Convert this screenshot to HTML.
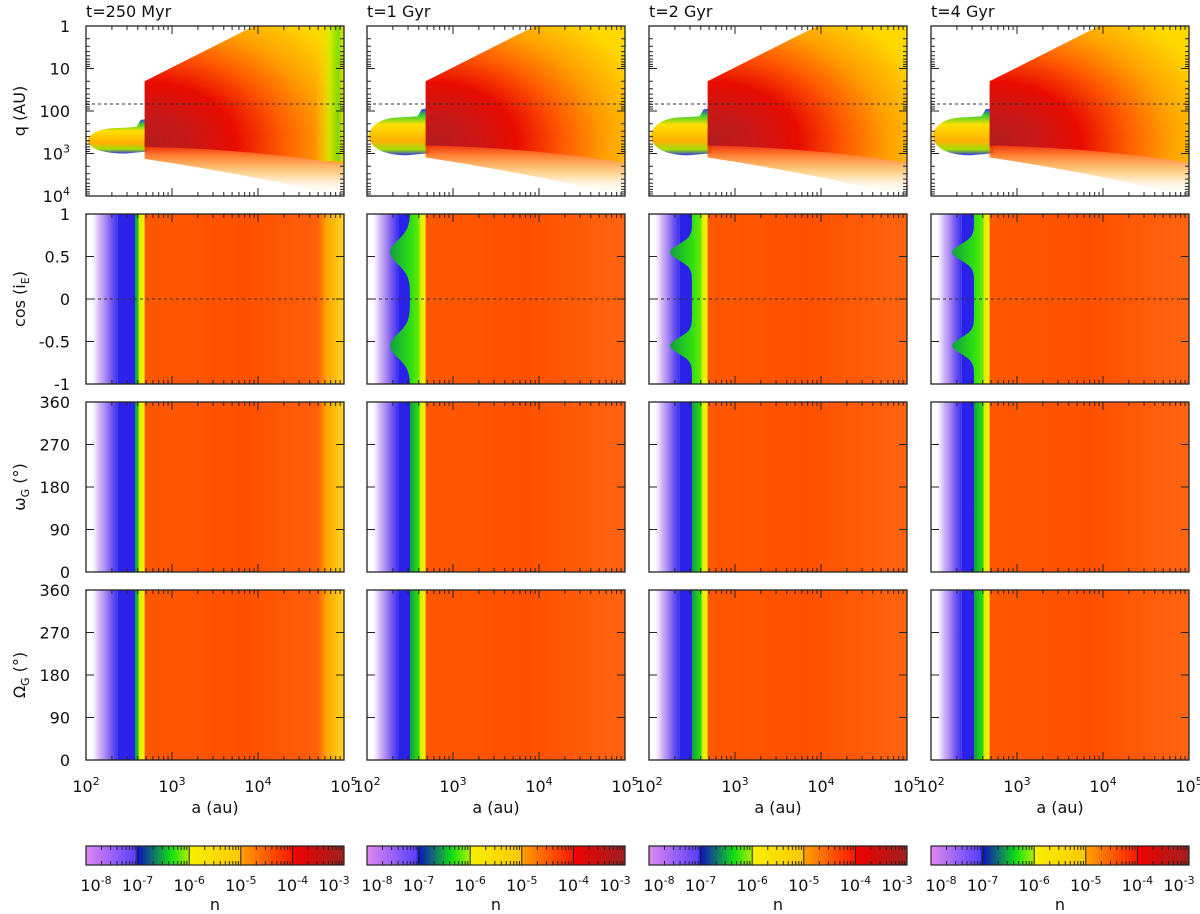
<!DOCTYPE html>
<html><head><meta charset="utf-8"><style>
body{margin:0;background:#fff}
svg{display:block;font-family:"DejaVu Sans","Liberation Sans",sans-serif}
</style></head><body>
<svg id="fig" width="1200" height="914" viewBox="0 0 1200 914" xmlns="http://www.w3.org/2000/svg">
<defs>
<radialGradient id="gQ" cx="0.02" cy="0.85" r="1.15" fx="0.02" fy="0.85"><stop offset="0" stop-color="#b41c1c"/><stop offset="0.18" stop-color="#c81818"/><stop offset="0.38" stop-color="#e80c00"/><stop offset="0.58" stop-color="#ff5a00"/><stop offset="0.77" stop-color="#ffa000"/><stop offset="1" stop-color="#ffd800"/></radialGradient>
<linearGradient id="gQfade" x1="0" y1="0" x2="0" y2="1"><stop offset="0" stop-color="#e81000" stop-opacity="1"/><stop offset="0.25" stop-color="#ff6000" stop-opacity="0.8"/><stop offset="0.6" stop-color="#ffa000" stop-opacity="0.4"/><stop offset="1" stop-color="#ffffff" stop-opacity="0"/></linearGradient>
<linearGradient id="gBand" x1="0" y1="0" x2="0" y2="1"><stop offset="0" stop-color="#3030ff"/><stop offset="0.15" stop-color="#30d030"/><stop offset="0.35" stop-color="#ffe000"/><stop offset="0.7" stop-color="#ffb000"/><stop offset="0.88" stop-color="#a0e000"/><stop offset="1" stop-color="#3030f0"/></linearGradient>
<linearGradient id="gViolet" x1="0" y1="0" x2="1" y2="0"><stop offset="0" stop-color="#d8b0f8" stop-opacity="0"/><stop offset="0.3" stop-color="#c0a0f4" stop-opacity="0.8"/><stop offset="0.7" stop-color="#8060f0"/><stop offset="1" stop-color="#3a30f0"/></linearGradient>
<linearGradient id="gGreen" x1="0" y1="0" x2="1" y2="0"><stop offset="0" stop-color="#10a040"/><stop offset="0.6" stop-color="#30e010"/><stop offset="1" stop-color="#a0f000"/></linearGradient>
<linearGradient id="gYel" x1="0" y1="0" x2="1" y2="0"><stop offset="0" stop-color="#d0f000"/><stop offset="1" stop-color="#fff000"/></linearGradient>
<linearGradient id="gOr" x1="0" y1="0" x2="1" y2="0"><stop offset="0" stop-color="#ff5800"/><stop offset="0.5" stop-color="#ff5000"/><stop offset="1" stop-color="#ff6410"/></linearGradient>
<linearGradient id="gOuter" x1="0" y1="0" x2="1" y2="0"><stop offset="0" stop-color="#ff5000" stop-opacity="0"/><stop offset="0.4" stop-color="#ffa000"/><stop offset="1" stop-color="#ffd820"/></linearGradient>
<linearGradient id="gOuterQ" x1="0" y1="0" x2="1" y2="0"><stop offset="0" stop-color="#ffd000" stop-opacity="0"/><stop offset="0.5" stop-color="#d0f000" stop-opacity="0.8"/><stop offset="0.8" stop-color="#60e000" stop-opacity="0.8"/><stop offset="1" stop-color="#ffe000"/></linearGradient>
<linearGradient id="gCB" x1="0" y1="0" x2="1" y2="0"><stop offset="0" stop-color="#e088f0"/><stop offset="0.19" stop-color="#5a40ff"/><stop offset="0.2" stop-color="#1010c0"/><stop offset="0.33" stop-color="#10e010"/><stop offset="0.4" stop-color="#b0f000"/><stop offset="0.4" stop-color="#f8f000"/><stop offset="0.6" stop-color="#ffc800"/><stop offset="0.6" stop-color="#ffa000"/><stop offset="0.8" stop-color="#ff1800"/><stop offset="0.8" stop-color="#f00000"/><stop offset="1" stop-color="#a02020"/></linearGradient>
</defs>
</svg>
<script>
// ---- data ----
const timeLabels = ["t=250 Myr", "t=1 Gyr", "t=2 Gyr", "t=4 Gyr"];
const edgeA = [480, 480, 480, 480];          // inner edge of dense region (au)
const qTopA = [9000, 9000, 9000, 9000];       // a where upper q boundary reaches q=1
const qEdgeTop = [20, 20, 20, 20];            // q at top of edge
const qRedBottom = [700, 650, 650, 650];      // lower q boundary of red region
const bandTopQ = [250, 140, 140, 140];        // low-a band top q
const bandBotQ = [1000, 1100, 1100, 1100];    // low-a band bottom q
const blueA = [235, 230, 225, 225];           // start of blue zone
const greenA = [372, 316, 316, 316];          // start of green zone
const outerA = [60000, 0, 0, 0];              // outer Oort yellow zone start
const cosBulge = [0, 20, 22, 22];             // green bulge at cos=±0.55 (px)
const bulgeWidth = [0.1, 0.2, 0.13, 0.13];    // width of bulge in cos
const yTickCos = ["1", "0.5", "0", "-0.5", "-1"];
const yTickAng = ["360", "270", "180", "90", "0"];
const xDecades = [2, 3, 4, 5];
const cbDecades = [-8, -7, -6, -5, -4, -3];

// ---- geometry ----
const L = [86, 367, 649, 931], W = 258, T = [26, 214, 402, 590], H = 170;
const NS = "http://www.w3.org/2000/svg";
const svg = document.getElementById("fig");
function mk(tag, attrs, parent) {
  const e = document.createElementNS(NS, tag);
  for (const k in attrs) e.setAttribute(k, attrs[k]);
  (parent || svg).appendChild(e);
  return e;
}
const xs = (c, a) => L[c] + (Math.log10(a) - 2) / 3 * W;
const yq = q => T[0] + Math.log10(q) / 4 * H;

for (let c = 0; c < 4; c++) {
  const x0 = L[c], x1 = L[c] + W;
  const tt = mk("text", {x: x0, y: 17, "font-size": 16, fill: "#111"});
  tt.textContent = timeLabels[c];
  
  

  // ---- row 1: q panel ----
  const g1 = mk("g", {});
  
  
  const xe = xs(c, edgeA[c]);
  const bt = yq(bandTopQ[c]), bb = yq(bandBotQ[c]), bm = (bt + bb) / 2;
  const band = mk("path", {d: `M${x0 + 1},${bm} Q${x0 + 6},${bt} ${x0 + 35},${bt} L${xe - 8},${bt - 1} L${xe - 4},${bt - 8} L${xe + 4},${bt - 9} L${xe + 4},${bb - 2} L${x0 + 40},${bb} Q${x0 + 6},${bb} ${x0 + 1},${bm} Z`, fill: "url(#gBand)"}, g1);
  
  
  const yb0 = yq(qRedBottom[c]), yb1 = yq(qRedBottom[c] * 2.5), ybc = yq(qRedBottom[c] * 1.1);
  const fade = mk("path", {d: `M${xe},${yb0 - 4} Q${(xe + x1) / 2},${ybc - 4} ${x1},${yb1 - 4} L${x1},${T[0] + H} Q${(xe + x1) / 2},${yb1 + 10} ${xe},${yb0 + 12} Z`, fill: "url(#gQfade)"}, g1);
  
  
  const main = mk("path", {d: `M${xe},${yq(qEdgeTop[c])} L${xs(c, qTopA[c])},${T[0]} L${x1},${T[0]} L${x1},${yb1} Q${(xe + x1) / 2},${ybc} ${xe},${yb0} Z`, fill: "url(#gQ)"}, g1);
  
  
  if (outerA[c] > 0) {
    const oq = mk("rect", {x: xs(c, outerA[c]) - 10, y: T[0], width: x1 - xs(c, outerA[c]) + 10, height: yq(1500) - T[0], fill: "url(#gOuterQ)"}, g1);
    
    
  }
  const dash1 = mk("line", {x1: x0, x2: x1, y1: 104, y2: 104, stroke: "#333", "stroke-dasharray": "3,3", "stroke-width": 1}, g1);
  
  

  // ---- rows 2-4 ----
  for (let r = 1; r < 4; r++) {
    const y0 = T[r];
    const g = mk("g", {});
    
    
    const xb = xs(c, blueA[c]), xg = xs(c, greenA[c]);
    const vi = mk("rect", {x: x0 + 6, y: y0, width: xb - x0 - 6, height: H, fill: "url(#gViolet)"}, g);
    
    
    const bl = mk("rect", {x: xb, y: y0, width: xe - xb, height: H, fill: "#2a22e8"}, g);
    
    
    let d = "";
    const N = 60;
    for (let i = 0; i <= N; i++) {
      const cv = 1 - 2 * i / N;
      const bulge = r === 1 ? cosBulge[c] * Math.exp(-Math.pow((Math.abs(cv) - 0.55) / bulgeWidth[c], 2)) : 0;
      const gx = xg - bulge, gy = y0 + i / N * H;
      d += (i ? "L" : "M") + gx.toFixed(1) + "," + gy.toFixed(1);
    }
    d += `L${xe},${y0 + H}L${xe},${y0}Z`;
    const gr = mk("path", {d: d, fill: "url(#gGreen)"}, g);
    
    
    const ye = mk("rect", {x: xe - 6, y: y0, width: 6, height: H, fill: "url(#gYel)"}, g);
    
    
    const orr = mk("rect", {x: xe, y: y0, width: x1 - xe, height: H, fill: "url(#gOr)"}, g);
    
    
    if (outerA[c] > 0) {
      const ou = mk("rect", {x: xs(c, outerA[c]) - 12, y: y0, width: x1 - xs(c, outerA[c]) + 12, height: H, fill: "url(#gOuter)"}, g);
      
      
    }
    if (r === 1) {
      const dl = mk("line", {x1: x0, x2: x1, y1: y0 + H / 2, y2: y0 + H / 2, stroke: "#333", "stroke-dasharray": "3,3"}, g);
      
      
    }
  }

  // ---- frames & ticks ----
  for (let r = 0; r < 4; r++) {
    const y0 = T[r], y1 = T[r] + H;
    const fr = mk("rect", {x: x0, y: y0, width: W, height: H, fill: "none", stroke: "#222", "stroke-width": 1.3});
    
    
    let tp = "";
    for (let dec = 2; dec <= 5; dec++) {
      for (let m = 1; m <= 9; m++) {
        if (dec === 5 && m > 1) break;
        const x = xs(c, m * Math.pow(10, dec)), len = m === 1 ? 8 : 4;
        tp += `M${x},${y1}v${-len}M${x},${y0}v${len}`;
      }
    }
    if (r === 0) {
      for (let dec = 0; dec <= 4; dec++) for (let m = 1; m <= 9; m++) {
        if (dec === 4 && m > 1) break;
        const y = yq(m * Math.pow(10, dec)), len = m === 1 ? 8 : 4;
        tp += `M${x0},${y}h${len}M${x1},${y}h${-len}`;
      }
    } else {
      for (let i = 1; i < 4; i++) { const y = y0 + i * H / 4; tp += `M${x0},${y}h8M${x1},${y}h-8`; }
    }
    const tk = mk("path", {d: tp, stroke: "#222", "stroke-width": 1, fill: "none"});
    
    
  }

  xDecades.forEach(dec => {
    const t = mk("text", {x: xs(c, Math.pow(10, dec)), y: 792, "font-size": 16, fill: "#111", "text-anchor": "middle"});
    t.innerHTML = `10<tspan font-size="11" dy="-7">${dec}</tspan>`;
    
    
  });
  const xl = mk("text", {x: x0 + W / 2, y: 813, "font-size": 16, fill: "#111", "text-anchor": "middle"});
  xl.textContent = "a (au)";
  
  

  // ---- colorbar ----
  const cb = mk("rect", {x: x0, y: 846, width: W, height: 19, fill: "url(#gCB)", stroke: "#222", "stroke-width": 1.2});
  
  
  let cp = "";
  const cx = v => x0 + (v + 8) / 5 * W;
  for (let dec = -8; dec <= -4; dec++) for (let m = 1; m <= 9; m++) {
    const x = cx(dec + Math.log10(m));
    if (m === 1) cp += `M${x},846v19`; else cp += `M${x},846v4M${x},865v-4`;
  }
  const cbt = mk("path", {d: cp, stroke: "#222", "stroke-width": 1, fill: "none"});
  
  
  cbDecades.forEach((dec, i) => {
    const shift = i === 0 ? 10 : (i === cbDecades.length - 1 ? -10 : 0);
    const t = mk("text", {x: cx(dec) + shift, y: 891, "font-size": 16, fill: "#111", "text-anchor": "middle"});
    t.innerHTML = `10<tspan font-size="11" dy="-7">${dec}</tspan>`;
    
    
  });
  const nl = mk("text", {x: x0 + W / 2, y: 910, "font-size": 16, fill: "#111", "text-anchor": "middle"});
  nl.textContent = "n";
  
  
}

const qLabels = ["1", "10", "100", "10^3", "10^4"];
qLabels.forEach((s, i) => {
  const t = mk("text", {x: 70, y: T[0] + i * H / 4 + 6, "font-size": 16, fill: "#111", "text-anchor": "end"});
  if (s.includes("^")) t.innerHTML = `10<tspan font-size="11" dy="-7">${s.split("^")[1]}</tspan>`;
  else t.textContent = s;
  
  
});
for (let r = 1; r < 4; r++) {
  const arr = r === 1 ? yTickCos : yTickAng;
  arr.forEach((s, i) => {
    const t = mk("text", {x: 70, y: T[r] + i * H / 4 + 6, "font-size": 16, fill: "#111", "text-anchor": "end"});
    t.textContent = s;
    
    
  });
}
const yTitles = [
  'q (AU)',
  'cos (i<tspan font-size="11" dy="4">E</tspan><tspan dy="-4">)</tspan>',
  'ω<tspan font-size="11" dy="4">G</tspan><tspan dy="-4"> (°)</tspan>',
  'Ω<tspan font-size="11" dy="4">G</tspan><tspan dy="-4"> (°)</tspan>'
];
yTitles.forEach((s, r) => {
  const cy = T[r] + H / 2;
  const t = mk("text", {x: 0, y: 0, "font-size": 16, fill: "#111", "text-anchor": "middle", transform: `translate(25,${cy}) rotate(-90)`});
  t.innerHTML = s;
  
  
});
</script>
</body></html>
